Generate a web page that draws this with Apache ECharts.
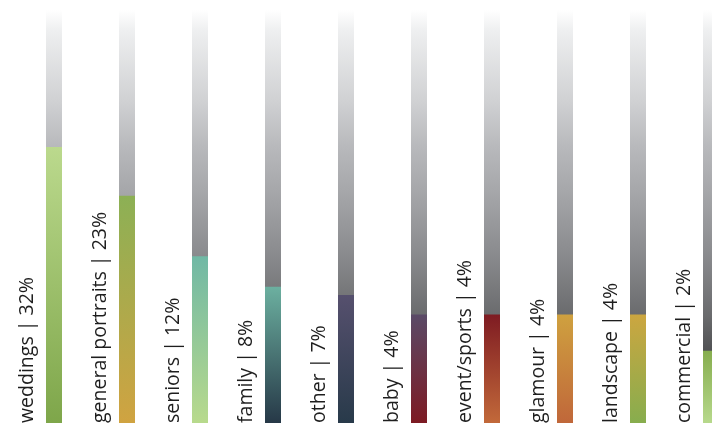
<!DOCTYPE html>
<html>
<head>
<meta charset="utf-8">
<script src="https://cdn.jsdelivr.net/npm/echarts@6/dist/echarts.min.js"></script>
<style>
  html, body { margin: 0; padding: 0; background: #fff; }
  #chart { width: 712px; height: 424px; }
</style>
</head>
<body>
<div id="chart"></div>
<script>
// categories and their share (label text)
const categories = ['weddings', 'general portraits', 'seniors', 'family', 'other', 'baby', 'event/sports', 'glamour', 'landscape', 'commercial'];
const percents = [32, 23, 12, 8, 7, 4, 4, 4, 4, 2];
// bar heights as drawn (share of the full track, 0-100)
const barLevels = [66.8, 55.0, 40.4, 33.0, 31.0, 26.3, 26.3, 26.3, 26.3, 17.5];
const trackMax = 100;
// colour of each bar, top then bottom
const topColors = ['#bbd98d', '#8cb055', '#70b8a5', '#6cb0a0', '#56506e', '#5a4a67', '#7e1b22', '#cfa13f', '#cca640', '#86ad4e'];
const bottomColors = ['#7ea64a', '#d0a341', '#b8da8c', '#263847', '#283a4a', '#7d1a23', '#c2693a', '#c0673a', '#87ad4e', '#b7d98c'];

const chart = echarts.init(document.getElementById('chart'));

function vgrad(stops) {
  return new echarts.graphic.LinearGradient(0, 0, 0, 1, stops);
}

const trackColor = vgrad([
  { offset: 0, color: '#ffffff' },
  { offset: 0.05, color: '#eeeff0' },
  { offset: 0.22, color: '#d0d1d3' },
  { offset: 0.33, color: '#b8b9bc' },
  { offset: 0.45, color: '#a4a5a8' },
  { offset: 0.6, color: '#88898c' },
  { offset: 0.74, color: '#6a6b6d' },
  { offset: 0.83, color: '#4f5052' },
  { offset: 1, color: '#38393b' }
]);

const option = {
  backgroundColor: '#ffffff',
  animation: false,
  // 73px per category, the last bar runs off the right edge
  grid: { left: 17.5, width: 730, top: 10, bottom: 1, outerBoundsMode: 'none', containLabel: false },
  xAxis: {
    type: 'category',
    data: categories,
    show: false
  },
  yAxis: {
    type: 'value',
    min: 0,
    max: trackMax,
    show: false
  },
  series: [
    {
      name: 'track',
      type: 'bar',
      barWidth: 16,
      silent: true,
      data: categories.map(() => trackMax),
      itemStyle: { color: trackColor },
      label: {
        show: true,
        position: [-19, '100%'],
        rotate: 90,
        align: 'left',
        verticalAlign: 'middle',
        fontFamily: 'Open Sans',
        fontSize: 19.5,
        color: '#1e1e1e',
        formatter: p => categories[p.dataIndex] + ' | ' + percents[p.dataIndex] + '%'
      }
    },
    {
      name: 'share',
      type: 'bar',
      barWidth: 16,
      barGap: '-100%',
      data: barLevels.map((v, i) => ({
        value: v,
        itemStyle: {
          color: vgrad([
            { offset: 0, color: topColors[i] },
            { offset: 1, color: bottomColors[i] }
          ])
        }
      }))
    }
  ]
};

chart.setOption(option);
</script>
</body>
</html>
